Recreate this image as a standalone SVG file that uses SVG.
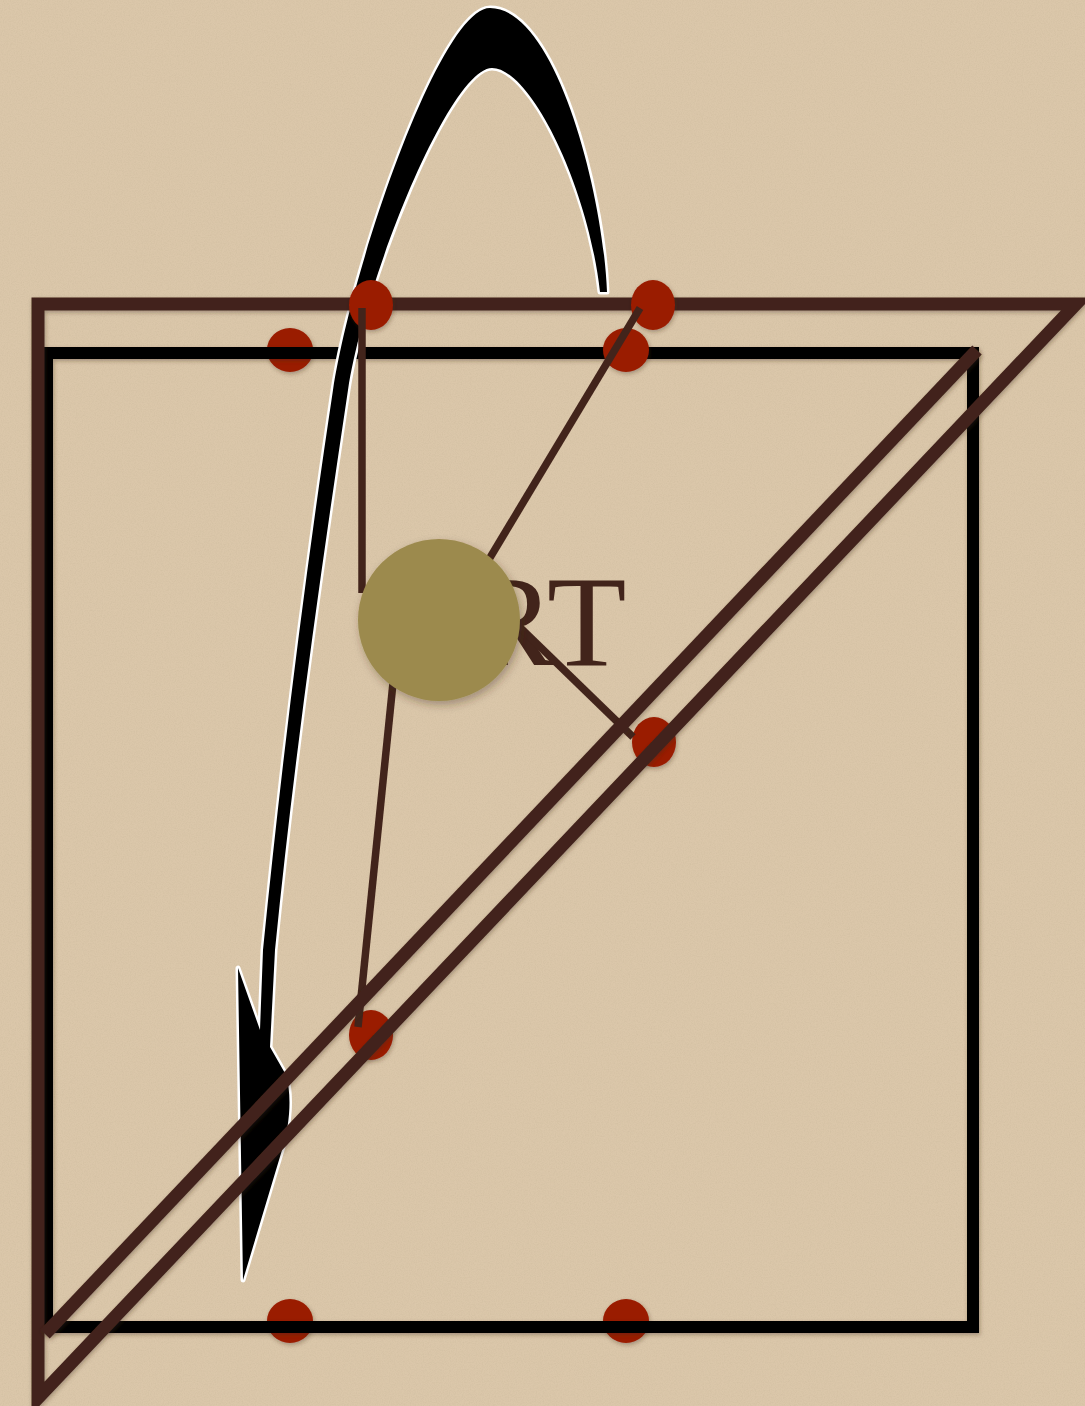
<svg xmlns="http://www.w3.org/2000/svg" width="1085" height="1406" viewBox="0 0 1085 1406">
<defs>
<filter id="paper" x="0" y="0" width="100%" height="100%">
<feTurbulence type="fractalNoise" baseFrequency="0.85" numOctaves="3" seed="4"/>
<feColorMatrix type="matrix" values="0 0 0 0 0.55  0 0 0 0 0.45  0 0 0 0 0.3  0.9 0 0 0 -0.32"/>
</filter>
<filter id="sh" x="-20%" y="-20%" width="140%" height="140%">
<feDropShadow dx="1" dy="2" stdDeviation="2" flood-color="#3a2a18" flood-opacity="0.35"/>
</filter>
<filter id="shc" x="-20%" y="-20%" width="140%" height="140%">
<feDropShadow dx="2" dy="4" stdDeviation="4" flood-color="#3a2a18" flood-opacity="0.35"/>
</filter>
<style>
.dot{fill:#9a1b00;filter:url(#sh)}
.brown{fill:none;stroke:#42241b;stroke-width:13;stroke-linejoin:miter;stroke-miterlimit:10;filter:url(#sh)}
.conn{stroke:#42241b;stroke-width:7.5;fill:none}
.sq{fill:none;stroke:#000;stroke-width:12;stroke-linejoin:miter;filter:url(#sh)}
</style>
</defs>
<rect width="1085" height="1406" fill="#dbc7aa"/>
<rect width="1085" height="1406" filter="url(#paper)" opacity="0.6"/>

<g id="dots-under">
<ellipse id="dot-tl2" class="dot" cx="290" cy="350" rx="23" ry="22"/>
<ellipse id="dot-bl" class="dot" cx="290" cy="1321" rx="23" ry="22"/>
<ellipse id="dot-br" class="dot" cx="626" cy="1321" rx="23" ry="22"/>
</g>

<g id="square">
<rect class="sq" x="47" y="353" width="926" height="974"/>
</g>

<ellipse id="dot-tr2" class="dot" cx="626" cy="350" rx="23" ry="22"/>

<g id="arrow">
<path d="M607,292 C603,190 555,8 490,8 C440,8 351,270 333,390 C304.5,580 282,760 263,950 L260,1030 L238,968 L243,1280 L282,1150 C290,1125 292,1095 286,1075 L270,1047 L275,950 C294,760 319.5,580 348,390 C364.5,280 450,68 492,68 C530,68 588,185 600,292 Z" fill="#000" stroke="#fff" stroke-width="5" stroke-linejoin="round" paint-order="stroke"/>
</g>

<ellipse id="dot-diag-low" class="dot" cx="371" cy="1035" rx="22" ry="25"/>
<ellipse id="dot-diag-mid" class="dot" cx="654" cy="742" rx="22" ry="25"/>

<g id="outer-triangle">
<polygon class="brown" points="38,304 1076,304 38,1398"/>
</g>

<ellipse id="dot-top1" class="dot" cx="371" cy="305" rx="22" ry="25"/>
<ellipse id="dot-top2" class="dot" cx="653" cy="305" rx="22" ry="25"/>

<g id="text-label">
<text x="468" y="665" font-family="Liberation Serif, serif" font-size="130" fill="#42241b">RT</text>
</g>

<g id="connectors">
<line class="conn" x1="362" y1="308" x2="362" y2="593"/>
<line class="conn" x1="640" y1="308" x2="485" y2="566"/>
<line class="conn" x1="633" y1="737" x2="500" y2="608"/>
<line class="conn" x1="393" y1="683" x2="358" y2="1027"/>
</g>

<g id="inner-diagonal">
<line class="brown" x1="977" y1="350" x2="45" y2="1334"/>
</g>

<g id="hub">
<circle cx="439" cy="620" r="81" fill="#9c8a4e" filter="url(#shc)"/>
</g>
</svg>
